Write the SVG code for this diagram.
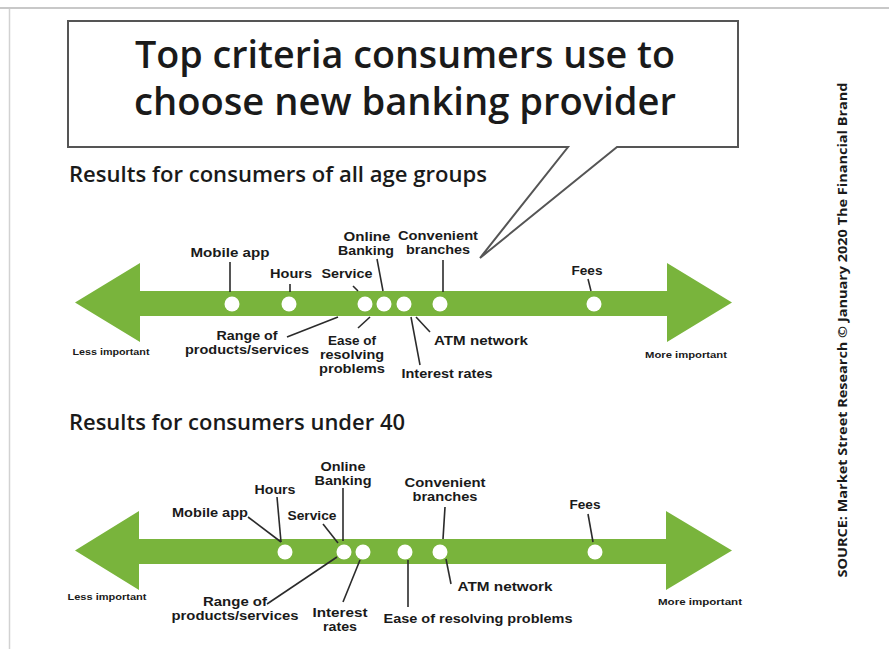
<svg xmlns="http://www.w3.org/2000/svg" width="889" height="649" viewBox="0 0 889 649">
<style>
.t{font-family:"Open Sans","Liberation Sans",sans-serif;fill:#1a1a1a}
.lb{font-family:"Liberation Sans",Arial,sans-serif;font-size:12px;font-weight:700;text-anchor:middle}
.sm{font-family:"Liberation Sans",Arial,sans-serif;font-size:9.5px;font-weight:700;text-anchor:middle}
.sub{font-size:21px;font-weight:600}
.ttl{font-size:38px;font-weight:600;text-anchor:middle}
.arrow{fill:#79b43c}
.dot{fill:#ffffff}
.ld{stroke:#2b2b2b;stroke-width:1.6;fill:none}
</style>
<rect width="889" height="649" fill="#ffffff"/>
<g id="frame">
<line x1="0" y1="8" x2="889" y2="8" stroke="#c8c8c8" stroke-width="2"/>
<line x1="9.5" y1="9" x2="9.5" y2="649" stroke="#d2d2d2" stroke-width="1.5"/>
</g>
<g id="callout">
<path d="M68,21 H738 V147 H617 L480,258 L568,147 H68 Z" fill="#ffffff" stroke="#555555" stroke-width="2"/>
<text class="t ttl" x="405" y="68" textLength="540" lengthAdjust="spacingAndGlyphs">Top criteria consumers use to</text>
<text class="t ttl" x="405" y="115" textLength="542" lengthAdjust="spacingAndGlyphs">choose new banking provider</text>
</g>
<g id="subtitle1"><text class="t sub" x="69" y="182" textLength="418" lengthAdjust="spacingAndGlyphs">Results for consumers of all age groups</text></g>
<g id="subtitle2"><text class="t sub" x="69" y="430" textLength="336" lengthAdjust="spacingAndGlyphs">Results for consumers under 40</text></g>
<g id="source"><text class="t" transform="translate(847,330) rotate(-90)" x="0" y="0" text-anchor="middle" font-size="12.5" font-weight="700" textLength="495" lengthAdjust="spacingAndGlyphs">SOURCE: Market Street Research © January 2020 The Financial Brand</text></g>

<g id="arrow1">
<path class="arrow" d="M75,302.5 L140,263 L140,291 L667,291 L667,263 L732,302.5 L667,342 L667,316 L140,316 L140,342 Z"/>
<circle class="dot" cx="232" cy="304" r="7.5"/>
<circle class="dot" cx="289" cy="304" r="7.5"/>
<circle class="dot" cx="365" cy="304" r="7.5"/>
<circle class="dot" cx="384" cy="304" r="7.5"/>
<circle class="dot" cx="404" cy="304" r="7.5"/>
<circle class="dot" cx="440" cy="304" r="7.5"/>
<circle class="dot" cx="594" cy="304" r="7.5"/>
</g>
<g id="arrow2">
<path class="arrow" d="M75,550.5 L139,511 L139,539 L666,539 L666,511 L732,550.5 L666,590 L666,564 L139,564 L139,590 Z"/>
<circle class="dot" cx="285" cy="552" r="7.5"/>
<circle class="dot" cx="344" cy="552" r="7.5"/>
<circle class="dot" cx="363" cy="552" r="7.5"/>
<circle class="dot" cx="405" cy="552" r="7.5"/>
<circle class="dot" cx="440" cy="552" r="7.5"/>
<circle class="dot" cx="595" cy="552" r="7.5"/>
</g>

<g id="connectors">
<line class="ld" x1="230" y1="262" x2="230" y2="292"/>
<line class="ld" x1="290" y1="284" x2="290" y2="292"/>
<line class="ld" x1="353" y1="286" x2="358" y2="291"/>
<line class="ld" x1="377" y1="259" x2="383" y2="291"/>
<line class="ld" x1="443" y1="260" x2="443" y2="292"/>
<line class="ld" x1="588" y1="279" x2="591" y2="291"/>
<line class="ld" x1="287" y1="337" x2="338" y2="317"/>
<line class="ld" x1="358" y1="328" x2="370" y2="317"/>
<line class="ld" x1="420" y1="365" x2="411" y2="317"/>
<line class="ld" x1="416" y1="317" x2="430" y2="332"/>

<line class="ld" x1="248" y1="517" x2="281" y2="542"/>
<line class="ld" x1="277" y1="497" x2="281" y2="542"/>
<line class="ld" x1="323" y1="524" x2="338" y2="543"/>
<line class="ld" x1="343" y1="488" x2="343" y2="541"/>
<line class="ld" x1="445" y1="507" x2="443" y2="539"/>
<line class="ld" x1="588" y1="514" x2="593" y2="542"/>
<line class="ld" x1="446" y1="559" x2="451" y2="584"/>
<line class="ld" x1="408" y1="560" x2="408" y2="607"/>
<line class="ld" x1="343" y1="602" x2="360" y2="560"/>
<line class="ld" x1="267" y1="604" x2="337" y2="557"/>
</g>

<g id="labels1">
<text class="t lb" x="230" y="257" textLength="79" lengthAdjust="spacingAndGlyphs">Mobile app</text>
<text class="t lb" x="291" y="278" textLength="42" lengthAdjust="spacingAndGlyphs">Hours</text>
<text class="t lb" x="347" y="278" textLength="51" lengthAdjust="spacingAndGlyphs">Service</text>
<text class="t lb" x="367" y="241" textLength="47" lengthAdjust="spacingAndGlyphs">Online</text>
<text class="t lb" x="366" y="255" textLength="56" lengthAdjust="spacingAndGlyphs">Banking</text>
<text class="t lb" x="438" y="240" textLength="80" lengthAdjust="spacingAndGlyphs">Convenient</text>
<text class="t lb" x="438" y="254" textLength="64" lengthAdjust="spacingAndGlyphs">branches</text>
<text class="t lb" x="587" y="275" textLength="31" lengthAdjust="spacingAndGlyphs">Fees</text>
<text class="t lb" x="247" y="340" textLength="61" lengthAdjust="spacingAndGlyphs">Range of</text>
<text class="t lb" x="247" y="354" textLength="124" lengthAdjust="spacingAndGlyphs">products/services</text>
<text class="t lb" x="352" y="345" textLength="48" lengthAdjust="spacingAndGlyphs">Ease of</text>
<text class="t lb" x="352" y="359" textLength="64" lengthAdjust="spacingAndGlyphs">resolving</text>
<text class="t lb" x="352" y="373" textLength="66" lengthAdjust="spacingAndGlyphs">problems</text>
<text class="t lb" x="447" y="378" textLength="91" lengthAdjust="spacingAndGlyphs">Interest rates</text>
<text class="t lb" x="481" y="345" textLength="94" lengthAdjust="spacingAndGlyphs">ATM network</text>
<text class="t sm" x="111" y="355" textLength="77" lengthAdjust="spacingAndGlyphs">Less important</text>
<text class="t sm" x="686" y="358" textLength="82" lengthAdjust="spacingAndGlyphs">More important</text>
</g>
<g id="labels2">
<text class="t lb" x="210" y="517" textLength="76" lengthAdjust="spacingAndGlyphs">Mobile app</text>
<text class="t lb" x="275" y="494" textLength="41" lengthAdjust="spacingAndGlyphs">Hours</text>
<text class="t lb" x="312" y="520" textLength="49" lengthAdjust="spacingAndGlyphs">Service</text>
<text class="t lb" x="343" y="471" textLength="45" lengthAdjust="spacingAndGlyphs">Online</text>
<text class="t lb" x="343" y="485" textLength="57" lengthAdjust="spacingAndGlyphs">Banking</text>
<text class="t lb" x="445" y="487" textLength="81" lengthAdjust="spacingAndGlyphs">Convenient</text>
<text class="t lb" x="445" y="501" textLength="65" lengthAdjust="spacingAndGlyphs">branches</text>
<text class="t lb" x="585" y="509" textLength="31" lengthAdjust="spacingAndGlyphs">Fees</text>
<text class="t lb" x="505" y="591" textLength="95" lengthAdjust="spacingAndGlyphs">ATM network</text>
<text class="t lb" x="478" y="623" textLength="189" lengthAdjust="spacingAndGlyphs">Ease of resolving problems</text>
<text class="t lb" x="340" y="617" textLength="55" lengthAdjust="spacingAndGlyphs">Interest</text>
<text class="t lb" x="340" y="631" textLength="34" lengthAdjust="spacingAndGlyphs">rates</text>
<text class="t lb" x="235" y="606" textLength="64" lengthAdjust="spacingAndGlyphs">Range of</text>
<text class="t lb" x="235" y="620" textLength="127" lengthAdjust="spacingAndGlyphs">products/services</text>
<text class="t sm" x="107" y="600" textLength="79" lengthAdjust="spacingAndGlyphs">Less important</text>
<text class="t sm" x="700" y="605" textLength="84" lengthAdjust="spacingAndGlyphs">More important</text>
</g>
</svg>
